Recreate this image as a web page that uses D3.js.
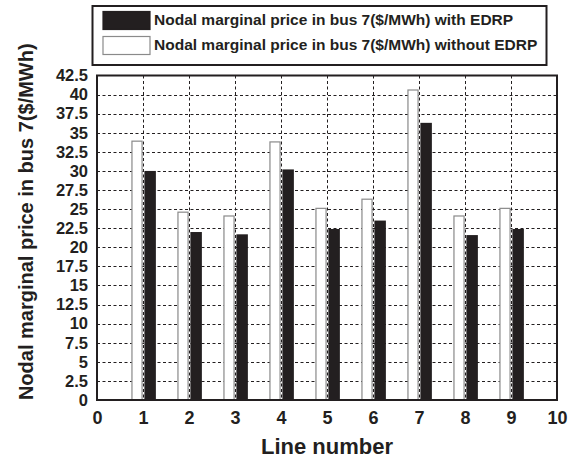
<!DOCTYPE html>
<html>
<head>
<meta charset="utf-8">
<script src="https://cdn.jsdelivr.net/npm/d3@7"></script>
<style>
  html, body { margin: 0; padding: 0; background: #fff; }
  svg { display: block; }
  text { font-family: Arial, "Liberation Sans", Helvetica, sans-serif; font-weight: bold; fill: #231f20; }
</style>
</head>
<body>
<svg id="chart" width="573" height="461"></svg>
<script>
// Line numbers and nodal marginal prices at bus 7 ($/MWh)
const lines = [1, 2, 3, 4, 5, 6, 7, 8, 9];
const priceWithEDRP = [30.0, 22.0, 21.7, 30.2, 22.4, 23.5, 36.3, 21.6, 22.4];
const priceWithoutEDRP = [33.9, 24.6, 24.1, 33.8, 25.1, 26.3, 40.6, 24.1, 25.1];
const xTicks = [0, 1, 2, 3, 4, 5, 6, 7, 8, 9, 10];
const yTicks = [0, 2.5, 5, 7.5, 10, 12.5, 15, 17.5, 20, 22.5, 25, 27.5, 30, 32.5, 35, 37.5, 40, 42.5];
const legendLabels = [
  "Nodal marginal price in bus 7($/MWh) with EDRP",
  "Nodal marginal price in bus 7($/MWh) without EDRP"
];

const svg = d3.select("#chart");
const ink = "#231f20";
const plot = { left: 97, right: 557, top: 75.5, bottom: 400 };

const x = d3.scaleLinear().domain([0, 10]).range([plot.left, plot.right]);
const y = d3.scaleLinear().domain([0, 42.5]).range([plot.bottom, plot.top]);

// dotted grid
const grid = svg.append("g").attr("stroke", ink).attr("stroke-width", 1)
  .attr("stroke-dasharray", "3,2.5");
grid.selectAll("line.h").data(yTicks.filter(t => t > 0 && t < 42.5)).join("line")
  .attr("x1", plot.left).attr("x2", plot.right)
  .attr("y1", d => Math.round(y(d)) + 0.5).attr("y2", d => Math.round(y(d)) + 0.5);
grid.selectAll("line.v").data(xTicks.filter(t => t > 0 && t < 10)).join("line")
  .attr("y1", plot.top).attr("y2", plot.bottom)
  .attr("x1", d => Math.round(x(d)) + 0.5).attr("x2", d => Math.round(x(d)) + 0.5);

// bars: hollow (without EDRP) to the left of each line number, solid (with EDRP) to the right
const bars = svg.append("g");
bars.selectAll("rect.wo").data(lines).join("rect")
  .attr("x", (d) => x(d - 0.24))
  .attr("width", x(0.22) - x(0))
  .attr("y", (d, i) => y(priceWithoutEDRP[i]))
  .attr("height", (d, i) => y(0) - y(priceWithoutEDRP[i]))
  .attr("fill", "#fff").attr("stroke", "#8a8a8a").attr("stroke-width", 1.2);
bars.selectAll("rect.w").data(lines).join("rect")
  .attr("x", (d) => x(d + 0.03))
  .attr("width", x(0.25) - x(0))
  .attr("y", (d, i) => y(priceWithEDRP[i]))
  .attr("height", (d, i) => y(0) - y(priceWithEDRP[i]))
  .attr("fill", ink);

// frame
svg.append("rect")
  .attr("x", plot.left).attr("y", plot.top)
  .attr("width", plot.right - plot.left).attr("height", plot.bottom - plot.top)
  .attr("fill", "none").attr("stroke", ink).attr("stroke-width", 2);

// axes
const xAxis = d3.axisBottom(x).tickValues(xTicks).tickSize(0).tickPadding(11).tickFormat(d3.format("d"));
const yAxis = d3.axisLeft(y).tickValues(yTicks).tickSize(0).tickPadding(9).tickFormat(d => String(d));

const gx = svg.append("g").attr("transform", `translate(0,${plot.bottom})`).call(xAxis);
gx.select(".domain").remove();
gx.selectAll("text").attr("font-size", 18).attr("fill", ink).attr("dy", "0.71em")
  .attr("font-family", "Arial, 'Liberation Sans', sans-serif").attr("font-weight", "bold");

const gy = svg.append("g").attr("transform", `translate(${plot.left},0)`).call(yAxis);
gy.select(".domain").remove();
gy.selectAll("text").attr("font-size", 16.5).attr("fill", ink)
  .attr("font-family", "Arial, 'Liberation Sans', sans-serif").attr("font-weight", "bold");

// axis titles
svg.append("text")
  .attr("x", (plot.left + plot.right) / 2).attr("y", 454)
  .attr("text-anchor", "middle").attr("font-size", 22)
  .text("Line number");
svg.append("text")
  .attr("transform", `translate(33,${(plot.top + plot.bottom) / 2 - 16}) rotate(-90)`)
  .attr("text-anchor", "middle").attr("font-size", 20)
  .text("Nodal marginal price in bus 7($/MWh)");

// legend
const lg = svg.append("g");
lg.append("rect").attr("x", 92.5).attr("y", 6).attr("width", 454).attr("height", 59)
  .attr("fill", "#fff").attr("stroke", ink).attr("stroke-width", 2);
const swatch = [
  { fill: ink, stroke: ink },
  { fill: "#fff", stroke: "#8a8a8a" }
];
legendLabels.forEach((label, i) => {
  const top = i === 0 ? 11.5 : 36.5;
  lg.append("rect").attr("x", 103).attr("y", top).attr("width", 47).attr("height", 18)
    .attr("fill", swatch[i].fill).attr("stroke", swatch[i].stroke).attr("stroke-width", 1.2);
  lg.append("text").attr("x", 154).attr("y", top + 13.5)
    .attr("font-size", 15.5).text(label);
});
</script>
</body>
</html>
